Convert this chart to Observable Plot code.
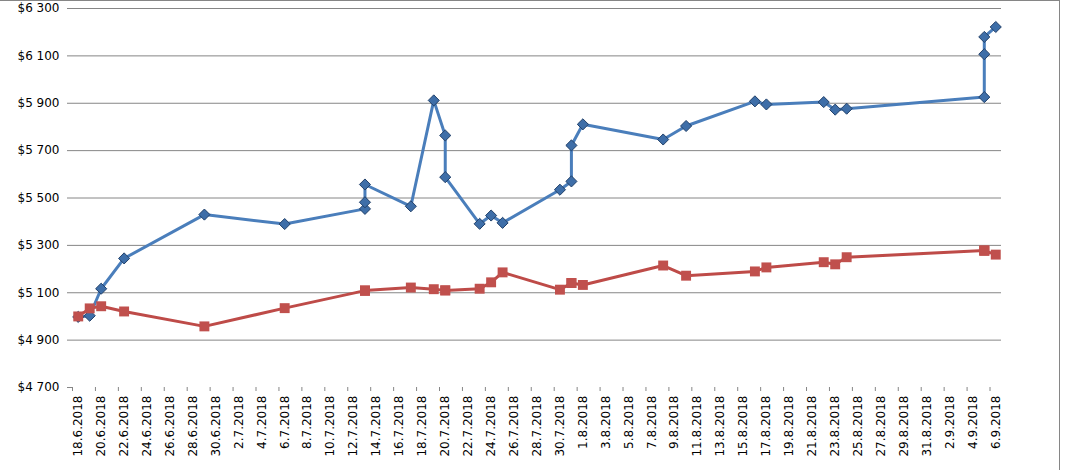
<!DOCTYPE html>
<html>
<head>
<meta charset="utf-8">
<script src="https://cdn.jsdelivr.net/npm/d3@7"></script>
<script src="https://cdn.jsdelivr.net/npm/@observablehq/plot@0.6"></script>
<style>
  html, body { margin: 0; padding: 0; background: #fff; }
  #wrap { position: relative; width: 1065px; height: 470px; overflow: hidden; }
  #frame { position: absolute; left: 0; top: 0; width: 1060px; height: 480px;
           border-top: 1px solid #868686; border-right: 1px solid #868686; box-sizing: border-box; pointer-events: none; }
  #wrap svg, #wrap svg text { font-family: "DejaVu Sans", sans-serif !important; }
  #wrap svg text { font-size: 12px !important; fill: #000; }
</style>
</head>
<body>
<div id="wrap"><div id="frame"></div></div>
<script>
// ---- data ----
const dates = [
  "2018-06-18","2018-06-19","2018-06-20","2018-06-22","2018-06-29","2018-07-06",
  "2018-07-13","2018-07-13","2018-07-13","2018-07-17","2018-07-19","2018-07-20","2018-07-20",
  "2018-07-23","2018-07-24","2018-07-25","2018-07-30","2018-07-31","2018-07-31","2018-08-01",
  "2018-08-08","2018-08-10","2018-08-16","2018-08-17","2018-08-22","2018-08-23","2018-08-24",
  "2018-09-05","2018-09-05","2018-09-05","2018-09-06"
];
const blueValues = [
  4998, 5003, 5117, 5245, 5430, 5390,
  5454, 5482, 5557, 5465, 5912, 5764, 5588,
  5391, 5426, 5395, 5535, 5570, 5722, 5811,
  5747, 5804, 5908, 5895, 5905, 5873, 5877,
  5926, 6107, 6180, 6222
];
const redValues = [
  5000, 5034, 5043, 5021, 4958, 5035,
  5109, 5109, 5109, 5122, 5115, 5110, 5110,
  5117, 5144, 5186, 5113, 5141, 5141, 5133,
  5215, 5172, 5190, 5207, 5229, 5220, 5250,
  5278, 5278, 5278, 5261
];
const yTicks = [4700, 4900, 5100, 5300, 5500, 5700, 5900, 6100, 6300];

// ---- derived ----
const DAY = 86400e3;
const firstDay = Date.UTC(2018, 5, 18);
const lastDay = Date.UTC(2018, 8, 6);
const xStart = new Date(firstDay - DAY / 2);
const xEnd = new Date(lastDay + DAY / 2);
const nSteps = Math.round((lastDay - firstDay) / DAY / 2);
const tickBounds = d3.range(0, nSteps + 1).map(k => new Date(xStart.getTime() + k * 2 * DAY));
const labelDates = d3.range(0, nSteps + 1).map(k => new Date(firstDay + k * 2 * DAY));

const rows = dates.map((d, i) => ({date: new Date(d), blue: blueValues[i], red: redValues[i]}));

const fmtDate = d => `${d.getUTCDate()}.${d.getUTCMonth() + 1}.${d.getUTCFullYear()}`;
const fmtMoney = v => "$" + d3.format(",")(v).replace(/,/g, " ");

const grey = "#868686";

const chart = Plot.plot({
  width: 1065,
  height: 470,
  marginLeft: 72,
  marginRight: 64,
  marginTop: 8,
  marginBottom: 83,
  style: {fontFamily: "DejaVu Sans", fontSize: "12px", color: "#000", background: "transparent"},
  x: {type: "utc", domain: [xStart, xEnd], axis: null},
  y: {domain: [4700, 6300], axis: null},
  marks: [
    Plot.ruleY(yTicks.slice(1), {stroke: grey, strokeWidth: 1}),
    Plot.axisY({ticks: yTicks, tickSize: 5, tickPadding: 8, tickFormat: fmtMoney, stroke: grey, fill: "#000", line: true, fontSize: 12}),
    Plot.axisX({ticks: tickBounds, tickSize: 4, tickFormat: () => "", stroke: grey, line: true}),
    Plot.axisX({ticks: labelDates, tickSize: 0, tickPadding: 8, tickRotate: -90, tickFormat: fmtDate, fill: "#000", fontSize: 12}),
    Plot.line(rows, {x: "date", y: "blue", stroke: "#4A7EBB", strokeWidth: 3, strokeLinejoin: "round"}),
    Plot.dot(rows, {x: "date", y: "blue", symbol: "diamond2", r: 5, fill: "#3E6EA8", stroke: "#22416A", strokeWidth: 1}),
    Plot.line(rows, {x: "date", y: "red", stroke: "#BE4B48", strokeWidth: 3, strokeLinejoin: "round"}),
    Plot.dot(rows, {x: "date", y: "red", symbol: "square", r: 5.6, fill: "#C0504D", stroke: "none"})
  ]
});
document.getElementById("wrap").insertBefore(chart, document.getElementById("frame"));
</script>
</body>
</html>
